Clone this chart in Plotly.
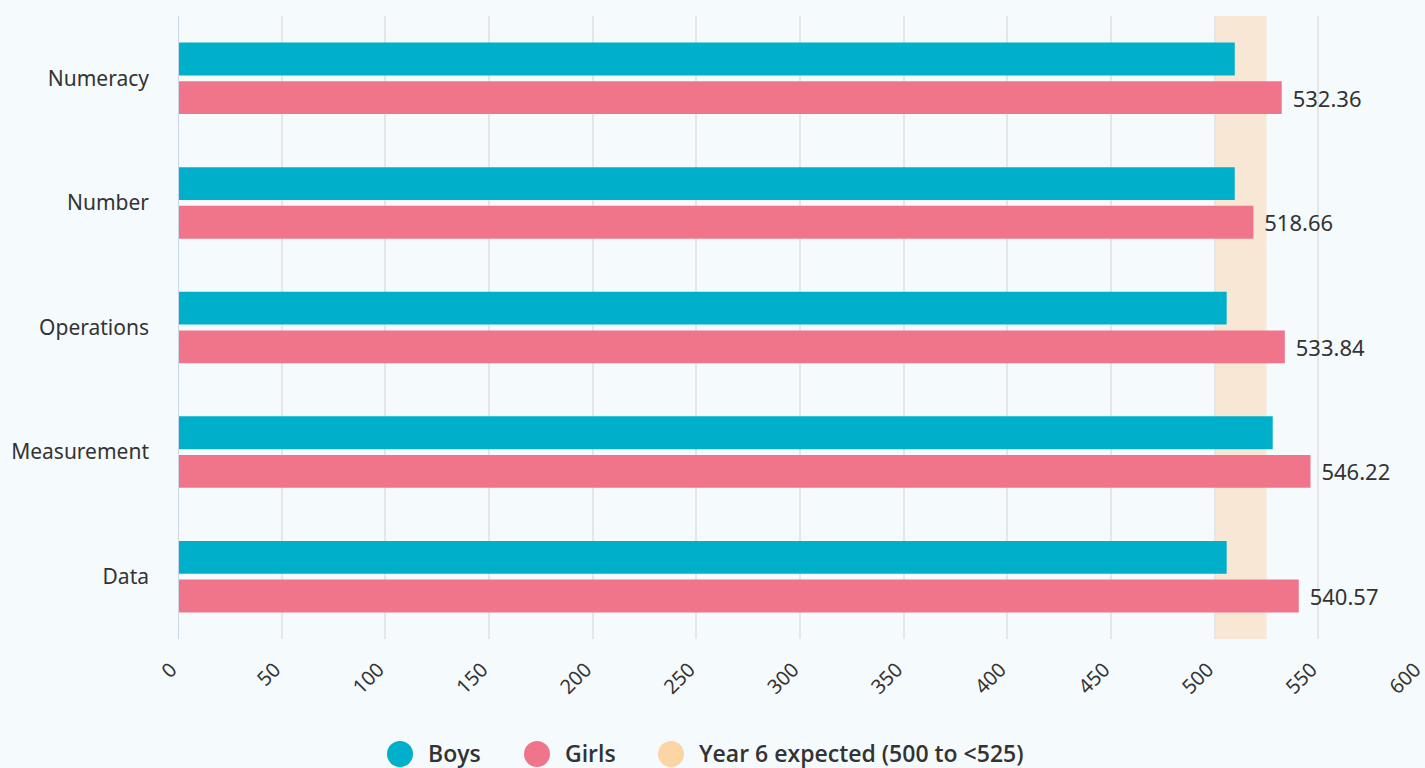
import plotly.graph_objects as go

categories = ["Numeracy", "Number", "Operations", "Measurement", "Data"]
boys = [509.7, 509.7, 505.8, 528.0, 505.8]
girls = [532.36, 518.66, 533.84, 546.22, 540.57]
band_low, band_high = 500, 525
x_ticks = list(range(0, 601, 50))
legend_labels = ["Boys", "Girls", "Year 6 expected (500 to <525)"]

BG = "#F5FAFD"
BOYS_C = "#00B0CA"
GIRLS_C = "#F0758B"
BAND_C = "#F8E7D5"
BAND_LEG_C = "#FDD4A3"
legend_colors = [BOYS_C, GIRLS_C, BAND_LEG_C]
FONT = "Noto Sans"

# plot area geometry (pixels)
W, H = 1425, 768
ML, MR, MT, MB = 178, 3, 16, 129
PW, PH = W - ML - MR, H - MT - MB

def px_to_paper_x(px):
    return (px - ML) / PW

def px_to_paper_y(py):
    return (H - MB - py) / PH

fig = go.Figure()
fig.add_trace(go.Bar(y=categories, x=boys, orientation="h", name="Boys",
                     marker=dict(color=BOYS_C, line=dict(width=0)), showlegend=False))
fig.add_trace(go.Bar(y=categories, x=girls, orientation="h", name="Girls",
                     marker=dict(color=GIRLS_C, line=dict(width=0)), showlegend=False,
                     text=girls, texttemplate=" \u200a%{x:.2f}", textposition="outside",
                     textfont=dict(size=22, color="#333333", family=FONT),
                     cliponaxis=False))

shapes = [dict(type="rect", xref="x", yref="paper", x0=band_low, x1=band_high, y0=0, y1=1,
               fillcolor=BAND_C, line=dict(width=0), layer="below"),
          dict(type="line", xref="x", yref="paper", x0=0, x1=0, y0=0, y1=1,
               line=dict(color="#CCD6EB", width=2), layer="above")]
annotations = []

# custom legend with large circular markers
leg_circle_px = [400, 537, 671]
leg_y_px = 754
for lab, col, cx in zip(legend_labels, legend_colors, leg_circle_px):
    shapes.append(dict(type="circle", xref="paper", yref="paper",
                       xsizemode="pixel", ysizemode="pixel",
                       xanchor=px_to_paper_x(cx), yanchor=px_to_paper_y(leg_y_px),
                       x0=-13, x1=13, y0=-13, y1=13,
                       fillcolor=col, line=dict(width=0)))
    annotations.append(dict(xref="paper", yref="paper",
                            x=px_to_paper_x(cx + 26), y=px_to_paper_y(leg_y_px - 1),
                            xanchor="left", yanchor="middle", showarrow=False,
                            text=lab, font=dict(size=23, color="#333333", family="Open Sans", weight=600)))

fig.update_layout(
    width=W, height=H,
    paper_bgcolor=BG, plot_bgcolor=BG,
    font=dict(family=FONT, color="#333333", size=16),
    barmode="group", bargap=0.38, bargroupgap=0.15,
    margin=dict(l=ML, r=MR, t=MT, b=MB, autoexpand=False),
    showlegend=False,
    xaxis=dict(range=[0, 600], tickvals=x_ticks, tickangle=-45,
               showgrid=True, gridcolor="#E6E6E6", gridwidth=2,
               zeroline=False, showline=False, ticks="", ticklabelstandoff=14,
               ticklabelshift=-7, ticklabeloverflow="allow", automargin=False,
               tickfont=dict(size=20, color="#333333"), layer="below traces"),
    yaxis=dict(categoryorder="array", categoryarray=categories,
               autorange="reversed", showgrid=False, zeroline=False,
               showline=False, ticks="", ticklabelstandoff=28, automargin=False,
               tickfont=dict(size=21, color="#333333")),
    shapes=shapes,
    annotations=annotations,
)

fig.write_html("out.html", config={"displayModeBar": False},
               post_script="document.body.style.margin='0';document.body.style.background='%s';" % BG)
